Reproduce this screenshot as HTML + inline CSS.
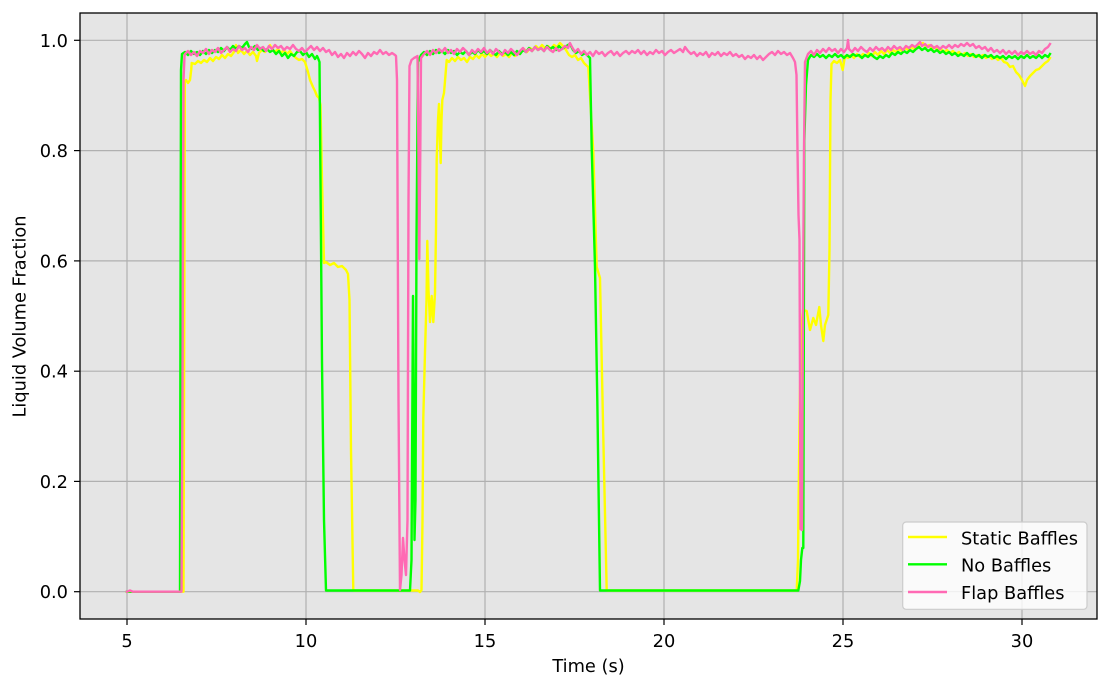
<!DOCTYPE html>
<html>
<head>
<meta charset="utf-8">
<style>
html,body{margin:0;padding:0;background:#fff;}
svg{display:block;}
text{font-family:"DejaVu Sans","Liberation Sans",sans-serif;fill:#000;}
</style>
</head>
<body>
<svg width="1110" height="689" viewBox="0 0 1110 689" xmlns="http://www.w3.org/2000/svg">
<defs>
<clipPath id="pa"><rect x="80" y="13" width="1017" height="606"/></clipPath>
</defs>
<rect x="0" y="0" width="1110" height="689" fill="#fff"/>
<rect x="80" y="13" width="1017" height="606" fill="#e5e5e5"/>
<!-- grid -->
<g stroke="#b0b0b0" stroke-width="1.2">
<line x1="127" y1="13" x2="127" y2="619"/>
<line x1="306" y1="13" x2="306" y2="619"/>
<line x1="485" y1="13" x2="485" y2="619"/>
<line x1="664" y1="13" x2="664" y2="619"/>
<line x1="843" y1="13" x2="843" y2="619"/>
<line x1="1022" y1="13" x2="1022" y2="619"/>
<line x1="80" y1="591.7" x2="1097" y2="591.7"/>
<line x1="80" y1="481.4" x2="1097" y2="481.4"/>
<line x1="80" y1="371.2" x2="1097" y2="371.2"/>
<line x1="80" y1="260.9" x2="1097" y2="260.9"/>
<line x1="80" y1="150.6" x2="1097" y2="150.6"/>
<line x1="80" y1="40.3" x2="1097" y2="40.3"/>
</g>
<g clip-path="url(#pa)" fill="none" stroke-width="2.4" stroke-linejoin="round" stroke-linecap="square">
<!-- Static Baffles (yellow) -->
<polyline stroke="#ffff00" points="127,591.7 183.5,591.7 184.3,300 184.8,82 186,80 188,83 190,80 191.2,70 191.7,63 195,64 198,61 201,63 204,60 207,62 210,58 213,61 216,57 219,59 222,55 225,58 228,54 231,56 234,52 236,45 238,53 241,50 244,54 247,51 250,55 253,52 256,56 257,61 259,53 262,50 265,52 268,48 270,45 272,49 275,52 278,49 281,53 284,50 287,54 290,51 293,55 296,58 299,60 302,59 305,62 308,72 310,80 313,87 315,91 317,96 319,98 320.5,105 322,180 324,263 326,262 330,265 334,263 338,267 342,266 346,270 348,274 349.5,300 351,450 353.3,590.5 418,590.5 420,592 421.5,590 422.5,520 423.3,418 425,352 426.5,300 427.3,241 428.5,290 430,322 431.7,296 433.3,322 435,293 436,230 436.7,159 438,120 439,104 440,140 440.7,163 441.5,120 442.3,100 444,93 445.5,75 446.7,60 449,62 452,58 455,61 458,57 461,60 464,58 467,62 470,57 473,59 476,55 479,58 482,54 485,57 488,53 491,56 494,54 497,57 500,53 503,56 506,54 509,57 512,53 515,56 518,54 521,51 524,49 527,52 530,48 533,50 536,46 539,49 542,45 545,48 548,46 551,49 554,45 557,47 560,43 563,46 566,50 569,55 572,57 575,55 578,60 581,58 584,63 586,65 588.3,67 593.3,152 596.7,267 600,278 603.3,437 606.7,590.5 796.7,590.5 798,560 799.5,420 801,330 803,310 806.7,311 810,330 813.3,318 816,325 819.3,307 821,325 823.3,341 825,325 828.3,315 829.5,250 830.5,100 831.5,64 834,61 837,63 840,60 842.7,70 845,56 848,58 851,55 854,58 857,54 860,57 863,54 866,56 869,53 872,56 875,52 878,55 881,51 884,54 887,50 890,53 893,50 896,52 899,49 902,51 905,48 908,50 911,47 914,49 917,46 920,44 923,43 926,47 929,45 932,49 935,47 938,51 941,49 944,52 947,50 950,53 953,51 956,54 959,52 962,55 965,53 968,56 971,54 974,57 977,55 980,57 983,55 986,58 989,56 992,59 995,57 998,60 1001,58 1004,62 1007,63 1010,67 1013,66 1016,72 1019,75 1022,80 1025,86 1027,80 1030,76 1033,73 1036,70 1039,69 1042,66 1045,63 1048,61 1050,58"/>
<!-- No Baffles (green) -->
<polyline stroke="#00ff00" points="127,591.7 180,591.7 180.5,300 181,70 182,54 185,52 188,55 191,51 194,54 197,52 200,55 203,51 206,54 209,50 212,53 215,50 218,52 221,48 224,51 227,47 230,50 233,46 236,49 239,46 242,48 245,44 247,42 249,47 252,49 255,46 258,50 261,48 264,51 267,49 270,52 273,50 276,54 279,51 282,56 285,53 288,58 291,54 294,56 297,52 300,51 303,55 306,52 309,57 312,54 315,59 317,56 318,58 319.5,62 322,363 324,520 326,590.5 410,590.5 411.5,560 413,296 414.5,540 415.5,500 416.5,240 418,62 421,55 424,52 427,55 430,51 433,54 436,50 439,53 442,51 445,54 448,50 451,53 454,51 457,55 460,52 463,54 466,51 469,55 472,52 475,54 478,50 481,53 484,51 487,54 490,50 493,53 496,55 499,51 502,54 505,52 508,55 511,52 514,55 517,51 520,54 523,50 526,52 529,48 532,51 535,47 538,50 541,48 544,51 547,46 550,49 553,47 556,50 559,46 562,49 565,47 568,45 570,44 573,50 576,53 579,51 582,55 585,53 588,56 590,58 591.7,148 595,267 597.3,400 600,590.5 798.3,590.5 800,581 801,560 802.3,548 803.3,548 804.3,141 806,85 808,60 811,55 814,57 817,54 820,57 823,55 826,58 829,55 832,57 835,54 838,57 841,55 844,58 847,55 850,57 853,54 856,56 859,55 862,58 865,55 868,57 871,54 874,57 877,59 880,56 883,58 886,55 889,57 892,53 895,55 898,52 901,54 904,51 907,53 910,50 913,52 916,49 919,47 922,50 925,48 928,51 931,49 934,52 937,50 940,53 943,51 946,54 949,52 952,55 955,53 958,56 961,54 964,56 967,53 970,56 973,54 976,57 979,55 982,58 985,55 988,57 991,55 994,58 997,56 1000,58 1003,56 1006,59 1009,56 1012,58 1015,56 1018,59 1021,56 1024,58 1027,55 1030,58 1033,56 1036,58 1039,55 1042,58 1045,55 1048,57 1050,54"/>
<!-- Flap Baffles (pink) -->
<polyline stroke="#ff69b4" points="127,591.7 130,590.5 133,591.7 181.5,591.7 182.5,400 183.5,80 184.5,56 185,54 188,51 191,55 194,52 197,56 200,51 203,53 206,49 209,54 212,50 215,52 218,48 221,53 224,50 227,47 230,52 233,49 236,51 239,46 242,50 245,48 248,52 251,47 254,50 257,45 260,49 263,47 266,51 269,46 272,49 275,45 278,48 281,46 284,50 287,47 290,49 293,45 296,49 299,51 302,48 305,52 308,49 311,46 314,50 317,47 320,51 323,48 326,52 329,50 332,55 335,52 338,57 341,54 344,58 347,53 350,56 353,52 356,55 359,51 362,54 365,58 368,53 371,56 374,52 377,54 380,50 383,54 386,52 389,55 392,53 395,55 396,56 397,80 398.5,400 400,590 401.5,575 403,538 404.5,560 406,575 407.5,520 408.5,200 409.5,66 411.5,60 414,58 416,57 417.5,56 418.5,150 419.3,259 420.3,150 421,58 424,54 427,51 430,55 433,50 436,53 439,49 442,52 445,48 448,53 451,50 454,54 457,49 460,52 463,48 466,51 469,55 472,50 475,53 478,49 481,52 484,48 487,53 490,50 493,54 496,49 499,52 502,55 505,50 508,53 511,49 514,52 517,55 520,51 523,48 526,52 529,49 532,51 535,47 538,50 541,48 544,51 547,47 550,50 553,52 556,48 559,51 562,49 565,46 568,48 570,43 572,47 575,52 578,49 581,54 584,51 587,55 590,52 593,56 596,51 599,54 602,52 605,56 608,53 611,51 614,55 617,52 620,56 623,53 626,51 629,54 632,51 635,53 638,50 641,54 644,51 647,55 650,52 653,54 656,50 659,53 662,51 665,55 668,52 671,50 674,53 677,51 680,49 683,52 685,47 688,51 691,54 694,52 697,56 700,53 703,55 706,52 709,57 712,53 715,55 718,52 721,56 724,53 727,55 730,52 733,56 736,54 739,57 742,55 745,59 748,56 751,58 754,55 757,59 760,56 763,60 766,57 769,54 772,52 775,55 778,51 781,54 784,52 787,55 790,53 793,58 795,62 796.5,75 797.5,150 798.5,215 799.5,240 800.5,529 802,530 803,300 804,150 805,62 808,54 811,51 814,55 817,50 820,53 823,49 826,52 829,48 832,51 835,49 838,53 841,49 844,52 847,48 848,40 849,49 852,52 855,48 858,51 861,47 864,50 867,52 870,48 873,51 876,47 879,50 882,48 885,51 888,47 891,50 894,46 897,49 900,47 903,50 906,46 909,48 912,45 915,47 918,44 920,42 922,46 925,44 928,47 931,45 934,48 937,46 940,49 943,46 946,48 949,45 952,48 955,45 958,47 961,44 964,46 967,43 970,46 973,44 976,48 979,46 982,49 985,47 988,51 991,48 994,52 997,50 1000,53 1003,50 1006,54 1009,51 1012,54 1015,51 1018,55 1021,52 1024,54 1027,51 1030,54 1033,52 1036,55 1039,51 1042,53 1045,49 1048,47 1050,44"/>
</g>
<!-- spines -->
<rect x="80" y="13" width="1017" height="606" fill="none" stroke="#000" stroke-width="1.3"/>
<!-- ticks -->
<g stroke="#000" stroke-width="1.2">
<line x1="127" y1="619" x2="127" y2="625"/>
<line x1="306" y1="619" x2="306" y2="625"/>
<line x1="485" y1="619" x2="485" y2="625"/>
<line x1="664" y1="619" x2="664" y2="625"/>
<line x1="843" y1="619" x2="843" y2="625"/>
<line x1="1022" y1="619" x2="1022" y2="625"/>
<line x1="74" y1="591.7" x2="80" y2="591.7"/>
<line x1="74" y1="481.4" x2="80" y2="481.4"/>
<line x1="74" y1="371.2" x2="80" y2="371.2"/>
<line x1="74" y1="260.9" x2="80" y2="260.9"/>
<line x1="74" y1="150.6" x2="80" y2="150.6"/>
<line x1="74" y1="40.3" x2="80" y2="40.3"/>
</g>
<g font-size="17.8" text-anchor="middle">
<text x="127" y="647">5</text>
<text x="306" y="647">10</text>
<text x="485" y="647">15</text>
<text x="664" y="647">20</text>
<text x="843" y="647">25</text>
<text x="1022" y="647">30</text>
</g>
<g font-size="17.8" text-anchor="end">
<text x="68" y="598.2">0.0</text>
<text x="68" y="487.9">0.2</text>
<text x="68" y="377.7">0.4</text>
<text x="68" y="267.4">0.6</text>
<text x="68" y="157.1">0.8</text>
<text x="68" y="46.8">1.0</text>
</g>
<text x="588.5" y="672" font-size="17.8" text-anchor="middle">Time (s)</text>
<text transform="translate(25.5,316.5) rotate(-90)" font-size="17.8" text-anchor="middle">Liquid Volume Fraction</text>
<!-- legend -->
<rect x="902.7" y="522" width="184.3" height="87.3" rx="3.5" ry="3.5" fill="#ffffff" fill-opacity="0.8" stroke="#cccccc" stroke-width="1.2"/>
<g stroke-width="2.4">
<line x1="908" y1="537" x2="947" y2="537" stroke="#ffff00"/>
<line x1="908" y1="564.3" x2="947" y2="564.3" stroke="#00ff00"/>
<line x1="908" y1="592" x2="947" y2="592" stroke="#ff69b4"/>
</g>
<g font-size="17.8">
<text x="961" y="544.3">Static Baffles</text>
<text x="961" y="571.7">No Baffles</text>
<text x="961" y="599.2">Flap Baffles</text>
</g>
</svg>
</body>
</html>
